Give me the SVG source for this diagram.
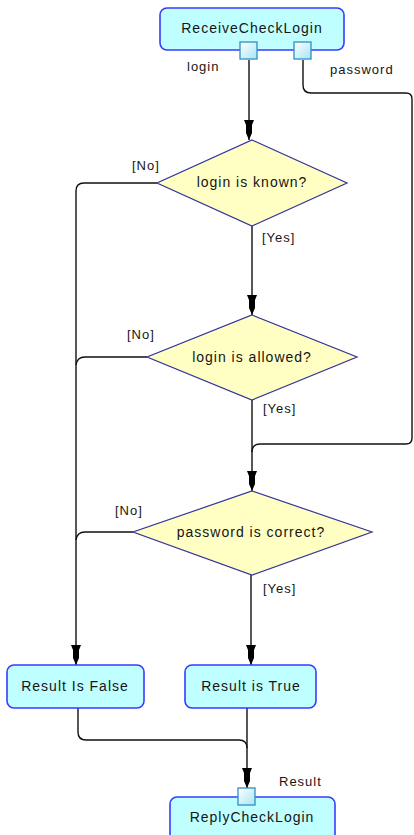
<svg xmlns="http://www.w3.org/2000/svg" width="414" height="835" viewBox="0 0 414 835">
<style>
.box{fill:#c0ffff;stroke:#3a3aff;stroke-width:1.6}
.dia{fill:#ffffc4;stroke:#34349c;stroke-width:1.2}
.port{fill:url(#pg);stroke:#2f8fc0;stroke-width:1.3}
.t{font-family:"Liberation Sans",Arial,sans-serif;font-size:14px;letter-spacing:1px;fill:#151515;text-anchor:middle}
.l{font-family:"Liberation Sans",Arial,sans-serif;font-size:13px;letter-spacing:1px;fill:#151515}
.c{fill:none;stroke:#111;stroke-width:1.4}
</style>
<defs>
<linearGradient id="pg" x1="0" y1="0" x2="1" y2="1">
<stop offset="0" stop-color="#ffffff"/>
<stop offset="1" stop-color="#a6e6f6"/>
</linearGradient>
<marker id="ah" viewBox="-21 -6 22 12" refX="0" refY="0" markerWidth="22" markerHeight="12" markerUnits="userSpaceOnUse" orient="auto">
<path d="M0,0 L-7,-3 L-15,-3 L-20,-5 L-20,5 L-15,3 L-7,3 Z" fill="#000"/>
</marker>
</defs>
<g id="connectors">
<path class="c" d="M249,60 V140" marker-end="url(#ah)"/>
<path class="c" d="M303,60 V85 Q303,93 311,93 H406 Q412,93 412,99 V438 Q412,444 406,444 H260 Q252,444 252,452"/>
<path class="c" d="M252,226 V315" marker-end="url(#ah)"/>
<path class="c" d="M252,400 V491" marker-end="url(#ah)"/>
<path class="c" d="M251,575 V665" marker-end="url(#ah)"/>
<path class="c" d="M157,183 H84 Q76,183 76,191 V665" marker-end="url(#ah)"/>
<path class="c" d="M147,357 H85 Q77,357 76,365"/>
<path class="c" d="M133,532 H85 Q77,532 76,540"/>
<path class="c" d="M78,708 V732 Q78,740 86,740 H239 Q247,740 247,748"/>
<path class="c" d="M247,708 V788" marker-end="url(#ah)"/>
</g>
<g id="ReceiveCheckLogin">
<rect class="box" x="160" y="8" width="184" height="42" rx="7"/>
<text class="t" x="252" y="33">ReceiveCheckLogin</text>
<rect class="port" x="240" y="42" width="17" height="17"/>
<rect class="port" x="294" y="42" width="17" height="17"/>
<text class="l" x="187" y="71">login</text>
<text class="l" x="330" y="74">password</text>
</g>
<g id="loginKnown">
<polygon class="dia" points="252,140 347,183 252,226 157,183"/>
<text class="t" x="252" y="187">login is known?</text>
<text class="l" x="132" y="170">[No]</text>
<text class="l" x="262" y="242">[Yes]</text>
</g>
<g id="loginAllowed">
<polygon class="dia" points="252,315 357,357 252,400 147,357"/>
<text class="t" x="252" y="362">login is allowed?</text>
<text class="l" x="127" y="339">[No]</text>
<text class="l" x="263" y="413">[Yes]</text>
</g>
<g id="passwordCorrect">
<polygon class="dia" points="252,491 372,532 252,575 133,532"/>
<text class="t" x="251" y="537">password is correct?</text>
<text class="l" x="115" y="515">[No]</text>
<text class="l" x="263" y="593">[Yes]</text>
</g>
<g id="ResultFalse">
<rect class="box" x="7" y="665" width="137" height="43" rx="7"/>
<text class="t" x="75" y="691">Result Is False</text>
</g>
<g id="ResultTrue">
<rect class="box" x="185" y="665" width="131" height="43" rx="7"/>
<text class="t" x="251" y="691">Result is True</text>
</g>
<g id="ReplyCheckLogin">
<rect class="box" x="170" y="797" width="165" height="50" rx="7"/>
<text class="t" x="252" y="822">ReplyCheckLogin</text>
<rect class="port" x="238" y="788" width="17" height="17"/>
<text class="l" x="279" y="786">Result</text>
</g>
</svg>
